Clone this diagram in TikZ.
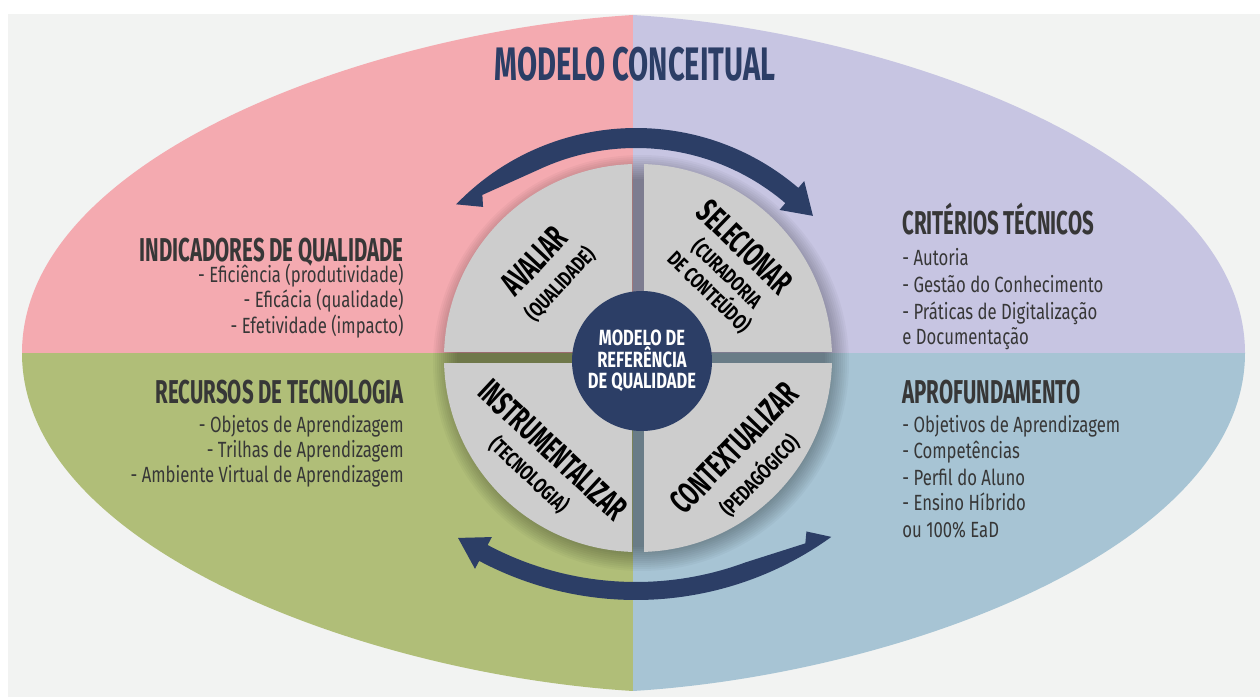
\documentclass[tikz,border=0pt]{standalone}
\usepackage{fontspec}
\setmainfont{Fira Sans}
\newfontfamily\headfont{Fira Sans}[FakeStretch=0.62]
\newfontfamily\tagfont{Fira Sans}[FakeStretch=0.75]
\newfontfamily\listfont{Fira Sans}[FakeStretch=0.76]
\definecolor{quad_pink}{RGB}{244,170,176}
\definecolor{quad_lilac}{RGB}{199,197,226}
\definecolor{quad_green}{RGB}{176,190,120}
\definecolor{quad_blue}{RGB}{167,196,212}
\definecolor{page_gray}{RGB}{242,243,242}
\definecolor{disk_gray}{RGB}{205,205,205}
\definecolor{navy}{RGB}{44,62,102}
\definecolor{ink}{RGB}{55,55,55}

\begin{document}
\begin{tikzpicture}[x=0.5pt,y=0.5pt]
    \tikzstyle{title}=[text=navy,inner sep=0pt,font=\headfont\bfseries\fontsize{23.5}{26}\selectfont]
    \tikzstyle{heading}=[text=ink,inner sep=0pt,font=\headfont\bfseries\fontsize{16.5}{18}\selectfont]
    \tikzstyle{item}=[text=ink,inner sep=0pt,font=\listfont\fontsize{11}{13}\selectfont]
    \tikzstyle{verb}=[text=black,inner sep=0pt,font=\headfont\bfseries\fontsize{17}{17}\selectfont]
    \tikzstyle{verbnote}=[text=black,inner sep=0pt,align=center,font=\tagfont\bfseries\fontsize{10.5}{9}\selectfont]
    \tikzstyle{quarter}=[fill=disk_gray]
    \tikzstyle{core}=[circle,fill=navy,minimum size=70pt,inner sep=0pt,align=center,text=white,
                      font=\tagfont\bfseries\fontsize{11}{10.75}\selectfont]
    \tikzstyle{ringarrow}=[fill=navy]

    \useasboundingbox (0,0) rectangle (1260,697);
    \fill[white] (0,0) rectangle (1260,697);
    \fill[page_gray] (8,0) rectangle (1260,683);

    % lens split into four coloured quadrants
    \begin{scope}
      \clip (633,682) .. controls (370,666) and (22,540) .. (22,344)
                      .. controls (22,148) and (370,22) .. (633,6)
                      .. controls (896,22) and (1245,148) .. (1245,344)
                      .. controls (1245,540) and (896,666) .. (633,682) -- cycle;
      \fill[quad_pink]  (0,344) rectangle (633,697);
      \fill[quad_lilac] (633,344) rectangle (1260,697);
      \fill[quad_green] (0,0) rectangle (633,344);
      \fill[quad_blue]  (633,0) rectangle (1260,344);
    \end{scope}

    \coordinate (hub) at (638,339);

    % soft shadow, then the four quarters of the disc
    \foreach \r in {184,186,...,208}
      \fill[black,opacity=0.032] ([shift={(3,-5)}]hub) circle (\r);
    \foreach \sx/\sy in {-1/1,1/1,1/-1,-1/-1}{
      \begin{scope}
        \clip ([shift={(\sx*6,\sy*6)}]hub) rectangle ([shift={(\sx*220,\sy*220)}]hub);
        \fill[quarter] (hub) circle (194);
      \end{scope}
    }

    % curved arrows round the disc
    \fill[ringarrow,shift={(636,319)}] (49.5:250) arc[start angle=49.5,end angle=136,radius=250]
      -- (131.8:229.5) -- (130:239) -- (115:230) arc[start angle=115,end angle=49.5,radius=230]
      -- (49.5:221) -- (42.5:240) -- (49.5:259) -- cycle;
    \fill[ringarrow,shift={(636,431)}] (242:334) arc[start angle=242,end angle=305.8,radius=334]
      -- (302.7:315.5) -- (301.4:325) -- (290.3:316) arc[start angle=290.3,end angle=242,radius=316]
      -- (242:307) -- (236.8:325) -- (242:343) -- cycle;

    \node[core] (core) at (642,336) {MODELO DE\\REFERÊNCIA\\DE QUALIDADE};

    \node[verb,rotate=47]  (avaliar) at (534,436) {AVALIAR};
    \node[verbnote,rotate=47] (avaliarnote) at (560,413) {(QUALIDADE)};
    \node[verb,rotate=-44] (selec) at (745,450) {SELECIONAR};
    \node[verbnote,rotate=-44] (selecnote) at (718,414) {(CURADORIA\\DE CONTEÚDO)};
    \node[verb,rotate=-43] (instr) at (553,247) {INSTRUMENTALIZAR};
    \node[verbnote,rotate=-43] (instrnote) at (529,222) {(TECNOLOGIA)};
    \node[verb,rotate=46]  (contx) at (734,249) {CONTEXTUALIZAR};
    \node[verbnote,rotate=46]  (contxnote) at (759,222) {(PEDAGÓGICO)};

    \node[title,anchor=base] (title) at (635,616) {MODELO CONCEITUAL};

    \node[heading,anchor=base east] (indic) at (404,435) {INDICADORES DE QUALIDADE};
    \node[item,anchor=base east] (indic1) at (404,414.5) {- Eficiência (produtividade)};
    \node[item,anchor=base east] (indic2) at (404,389)   {- Eficácia (qualidade)};
    \node[item,anchor=base east] (indic3) at (404,363.5) {- Efetividade (impacto)};

    \node[heading,anchor=base west] (crit) at (902,462) {CRITÉRIOS TÉCNICOS};
    \node[item,anchor=base west] (crit1) at (902,431.5) {- Autoria};
    \node[item,anchor=base west] (crit2) at (902,404.5) {- Gestão do Conhecimento};
    \node[item,anchor=base west] (crit3) at (902,377.5) {- Práticas de Digitalização};
    \node[item,anchor=base west] (crit4) at (902,352.5) {e Documentação};

    \node[heading,anchor=base east] (recur) at (404,293) {RECURSOS DE TECNOLOGIA};
    \node[item,anchor=base east] (recur1) at (404,264.5) {- Objetos de Aprendizagem};
    \node[item,anchor=base east] (recur2) at (404,239.5) {- Trilhas de Aprendizagem};
    \node[item,anchor=base east] (recur3) at (404,214.5) {- Ambiente Virtual de Aprendizagem};

    \node[heading,anchor=base west] (aprof) at (902,293) {APROFUNDAMENTO};
    \node[item,anchor=base west] (aprof1) at (902,264.5) {- Objetivos de Aprendizagem};
    \node[item,anchor=base west] (aprof2) at (902,238)   {- Competências};
    \node[item,anchor=base west] (aprof3) at (902,211)   {- Perfil do Aluno};
    \node[item,anchor=base west] (aprof4) at (902,186)   {- Ensino Híbrido};
    \node[item,anchor=base west] (aprof5) at (902,159.5) {ou 100\% EaD};
\end{tikzpicture}
\end{document}
